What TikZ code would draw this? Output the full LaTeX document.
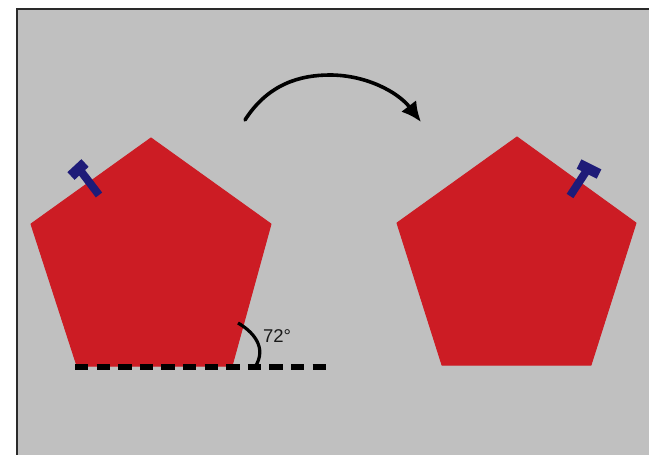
\documentclass[tikz,border=0pt]{standalone}
\usepackage{fontspec}
\setmainfont{Liberation Sans}
\usetikzlibrary{arrows.meta}
\definecolor{PanelGrey}{HTML}{C0C0C0}
\definecolor{PentaRed}{HTML}{CC1C24}
\definecolor{BoltBlue}{HTML}{1E1B78}
\definecolor{FrameDark}{HTML}{2A2A2A}
\begin{document}
\begin{tikzpicture}[x=1pt,y=-1pt,
  penta/.style={fill=PentaRed,draw=PentaRed,line width=1pt,line join=round},
  shaft/.style={draw=BoltBlue,line width=8pt},
  bolthead/.style={draw=BoltBlue,line width=10.5pt},
  turn/.style={-{Latex[length=20pt,width=19pt]},line width=3.6pt,line cap=round},
  baseline/.style={line width=5.2pt,dash pattern=on 13.4pt off 8.2pt}]
\useasboundingbox (0,0) rectangle (649,455);
\fill[white] (0,0) rectangle (649,455);
\fill[PanelGrey] (17,9.5) rectangle (649,455);
\draw[FrameDark,line width=2pt] (16.5,455) -- (16.5,9) -- (649,9);
% pentagon before the turn
\draw[penta] (151,138) -- (271,224) -- (232,366) -- (77,366) -- (31,224) -- cycle;
% pentagon after the turn
\draw[penta] (517,137) -- (636,223) -- (591,365) -- (442,365) -- (397,223) -- cycle;
% bolts
\draw[shaft] (99,195) -- (80,170);
\draw[bolthead] (71,176) -- (85,163);
\draw[shaft] (570,196) -- (589,167);
\draw[bolthead] (579,164) -- (599,174);
% turning arrow
\draw[turn] (245,120) .. controls (268,84) and (300,75) .. (330,75)
  .. controls (366,75) and (398,92) .. (421,122);
% dashed line and angle
\draw[baseline] (75,367) -- (326,367);
\draw[line width=3.2pt] (238,323) .. controls (252,331) and (268,347) .. (255,367);
\node[font=\fontsize{18.5}{20}\selectfont,text=black!90,inner sep=0pt] (anglelabel) at (277,336) {72°};
\end{tikzpicture}
\end{document}
